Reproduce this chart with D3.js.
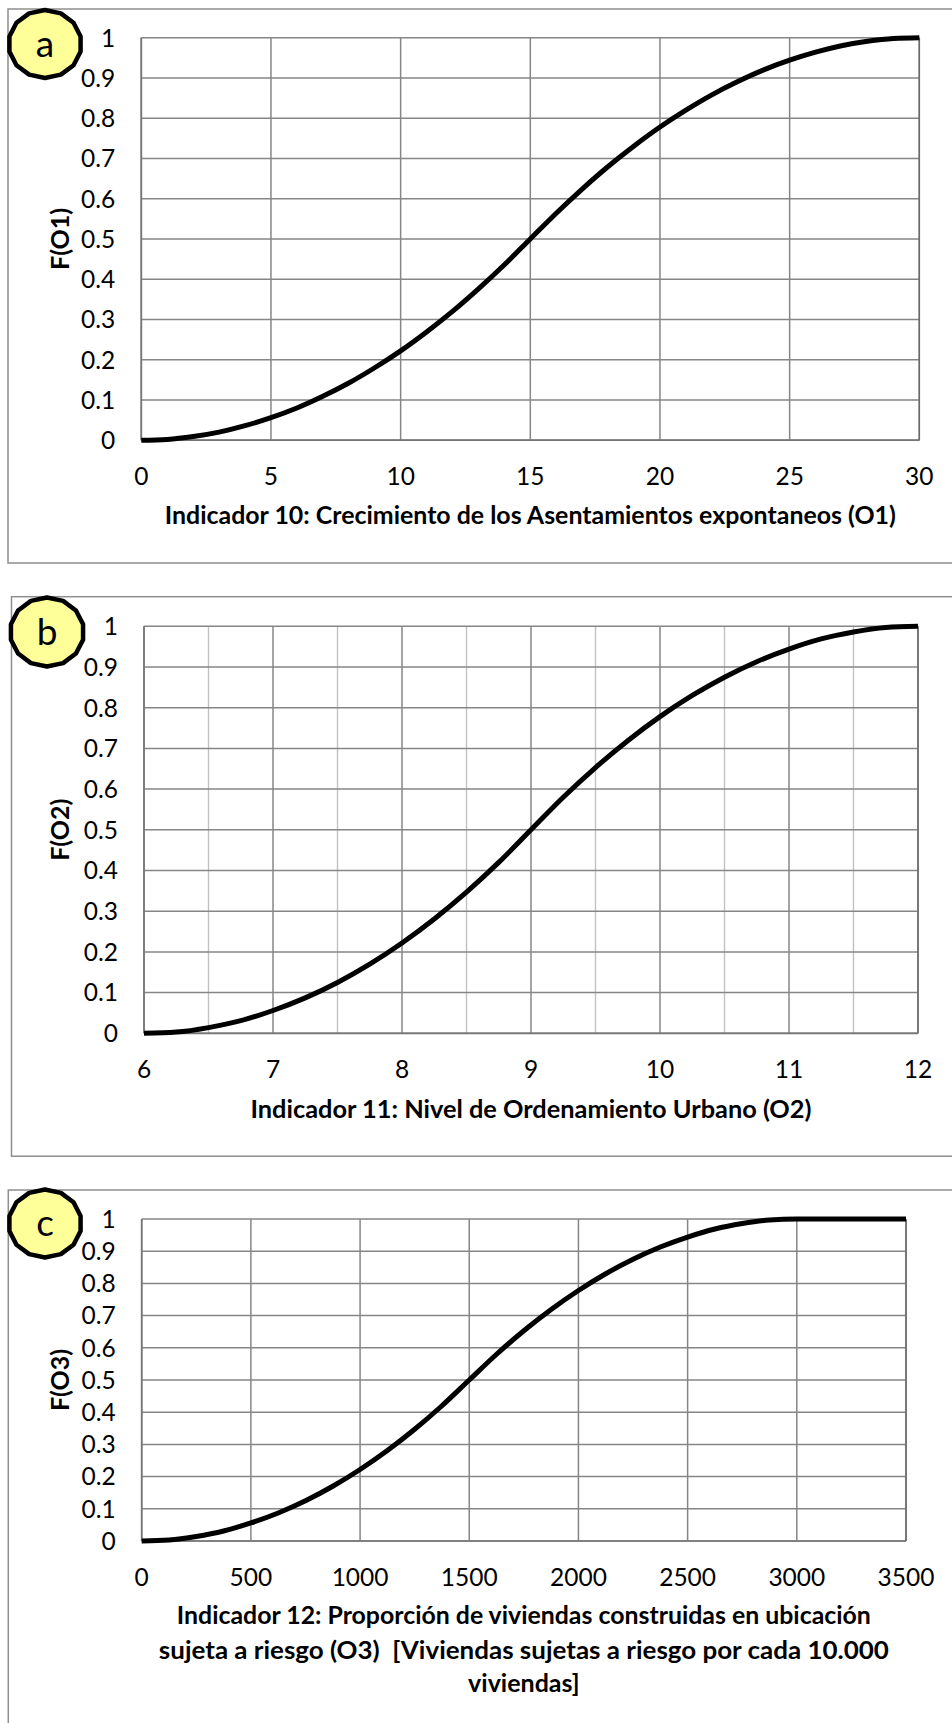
<!DOCTYPE html>
<html>
<head>
<meta charset="utf-8">
<script src="https://cdn.jsdelivr.net/npm/d3@7"></script>
<style>
  html, body { margin: 0; padding: 0; background: #ffffff; overflow: hidden; }
  svg { display: block; }
  text { font-family: Lato, "Open Sans", sans-serif; fill: #000; }
</style>
</head>
<body>
<svg id="chart" width="952" height="1723"></svg>
<script>
// ---- Data ----------------------------------------------------------------
// Shared F(x) axis
const fTicks = [0, 0.1, 0.2, 0.3, 0.4, 0.5, 0.6, 0.7, 0.8, 0.9, 1];
const fTickLabels = ["0", "0.1", "0.2", "0.3", "0.4", "0.5", "0.6", "0.7", "0.8", "0.9", "1"];

// (a) Indicador 10 – Crecimiento de los Asentamientos expontaneos (O1)
const o1Values = [0, 1, 2, 3, 4, 5, 6, 7, 8, 9, 10, 11, 12, 13, 14, 15,
                  16, 17, 18, 19, 20, 21, 22, 23, 24, 25, 26, 27, 28, 29, 30];
const fO1 = [0, 0.002, 0.009, 0.02, 0.036, 0.056, 0.08, 0.109, 0.142, 0.18, 0.222,
             0.269, 0.32, 0.376, 0.436, 0.5, 0.564, 0.624, 0.68, 0.731, 0.778,
             0.82, 0.858, 0.891, 0.92, 0.944, 0.964, 0.98, 0.991, 0.998, 1];
const o1Ticks = [0, 5, 10, 15, 20, 25, 30];

// (b) Indicador 11 – Nivel de Ordenamiento Urbano (O2)
const o2Values = [6, 6.25, 6.5, 6.75, 7, 7.25, 7.5, 7.75, 8, 8.25, 8.5, 8.75, 9,
                  9.25, 9.5, 9.75, 10, 10.25, 10.5, 10.75, 11, 11.25, 11.5, 11.75, 12];
const fO2 = [0, 0.003, 0.014, 0.031, 0.056, 0.087, 0.125, 0.17, 0.222, 0.281, 0.347, 0.42, 0.5,
             0.58, 0.653, 0.719, 0.778, 0.83, 0.875, 0.913, 0.944, 0.969, 0.986, 0.997, 1];
const o2Ticks = [6, 7, 8, 9, 10, 11, 12];
const o2MinorTicks = [6.5, 7.5, 8.5, 9.5, 10.5, 11.5];

// (c) Indicador 12 – Viviendas sujetas a riesgo por cada 10.000 viviendas (O3)
const o3Values = [0, 125, 250, 375, 500, 625, 750, 875, 1000, 1125, 1250, 1375, 1500,
                  1625, 1750, 1875, 2000, 2125, 2250, 2375, 2500, 2625, 2750, 2875, 3000, 3250, 3500];
const fO3 = [0, 0.003, 0.014, 0.031, 0.056, 0.087, 0.125, 0.17, 0.222, 0.281, 0.347, 0.42, 0.5,
             0.58, 0.653, 0.719, 0.778, 0.83, 0.875, 0.913, 0.944, 0.969, 0.986, 0.997, 1, 1, 1];
const o3Ticks = [0, 500, 1000, 1500, 2000, 2500, 3000, 3500];

// ---- Drawing ---------------------------------------------------------------
const svg = d3.select("#chart");
const GRID = "#868686";
const GRID_MINOR = "#c2c2c2";
const FRAME = "#8f8f8f";

// squeeze a bold title line into the width the narrow layout allows
function fitText(sel, width) {
  sel.each(function () {
    const w = this.getComputedTextLength();
    if (Math.abs(w - width) > 2) {
      d3.select(this).attr("textLength", width).attr("lengthAdjust", "spacingAndGlyphs");
    }
  });
}

function drawPanel(p) {
  const g = svg.append("g");

  // outer frame of the chart object (continues past the right edge)
  g.append("rect")
    .attr("x", p.frame.x).attr("y", p.frame.y)
    .attr("width", 1200).attr("height", p.frame.h)
    .attr("fill", "none").attr("stroke", FRAME).attr("stroke-width", 1.5);

  const x = d3.scaleLinear().domain(p.xDomain).range([p.plot.left, p.plot.right]);
  const y = d3.scaleLinear().domain([0, 1]).range([p.plot.bottom, p.plot.top]);

  // minor vertical gridlines
  if (p.xMinor) {
    g.append("g").selectAll("line").data(p.xMinor).join("line")
      .attr("x1", d => x(d)).attr("x2", d => x(d))
      .attr("y1", y(0)).attr("y2", y(1))
      .attr("stroke", GRID_MINOR).attr("stroke-width", 1.4);
  }
  // major vertical gridlines
  g.append("g").selectAll("line").data(p.xTicks).join("line")
    .attr("x1", d => x(d)).attr("x2", d => x(d))
    .attr("y1", y(0)).attr("y2", y(1))
    .attr("stroke", GRID).attr("stroke-width", 1.5);
  // horizontal gridlines
  g.append("g").selectAll("line").data(fTicks).join("line")
    .attr("x1", x(p.xDomain[0])).attr("x2", x(p.xDomain[1]))
    .attr("y1", d => y(d)).attr("y2", d => y(d))
    .attr("stroke", GRID).attr("stroke-width", 1.5);
  // axis lines
  g.append("line")
    .attr("x1", x(p.xDomain[0])).attr("x2", x(p.xDomain[1]))
    .attr("y1", y(0)).attr("y2", y(0))
    .attr("stroke", "#767676").attr("stroke-width", 1.7);
  g.append("line")
    .attr("x1", x(p.xDomain[0])).attr("x2", x(p.xDomain[0]))
    .attr("y1", y(0)).attr("y2", y(1))
    .attr("stroke", "#767676").attr("stroke-width", 1.7);
  g.append("line")
    .attr("x1", x(p.xDomain[1])).attr("x2", x(p.xDomain[1]))
    .attr("y1", y(0)).attr("y2", y(1))
    .attr("stroke", "#6a6a6a").attr("stroke-width", 1.5);

  // y tick labels
  g.append("g").selectAll("text").data(fTicks).join("text")
    .attr("x", p.plot.left - 26).attr("y", d => y(d))
    .attr("dy", "0.36em").attr("text-anchor", "end")
    .attr("font-size", 24.5)
    .text((d, i) => fTickLabels[i]);

  // x tick labels
  g.append("g").selectAll("text").data(p.xTicks).join("text")
    .attr("x", d => x(d)).attr("y", y(0) + 36)
    .attr("dy", "0.36em").attr("text-anchor", "middle")
    .attr("font-size", 24.5)
    .text(d => String(d));

  // y axis title
  g.append("text")
    .attr("transform", `translate(${p.yTitleX},${(y(0) + y(1)) / 2}) rotate(-90)`)
    .attr("text-anchor", "middle").attr("dy", "0.36em")
    .attr("font-size", 25).attr("font-weight", "bold")
    .text(p.yTitle);

  // x axis title (one or more lines)
  const cx = (p.plot.left + p.plot.right) / 2;
  p.xTitle.forEach((line, i) => {
    g.append("text")
      .attr("x", cx).attr("y", p.xTitleY[i])
      .attr("dy", "0.36em").attr("text-anchor", "middle")
      .attr("font-size", 25).attr("font-weight", "bold")
      .style("white-space", "pre")
      .text(line)
      .call(fitText, p.xTitleW[i]);
  });

  // curve
  const line = d3.line()
    .x((d, i) => x(p.xs[i]))
    .y(d => y(d))
    .curve(d3.curveMonotoneX);
  g.append("path")
    .datum(p.ys)
    .attr("d", line)
    .attr("fill", "none")
    .attr("stroke", "#000")
    .attr("stroke-width", 5)
    .attr("stroke-linejoin", "round");

  // panel badge
  const n = 14;
  const pts = d3.range(n).map(k => {
    const a = (k + 0.5) / n * 2 * Math.PI;
    return [p.badge.cx + p.badge.rx * Math.cos(a), p.badge.cy + p.badge.ry * Math.sin(a)];
  });
  g.append("path")
    .attr("d", d3.line().curve(d3.curveLinearClosed)(pts))
    .attr("fill", "#ffff99").attr("stroke", "#000").attr("stroke-width", 4.5)
    .attr("stroke-linejoin", "round");
  g.append("text")
    .attr("x", p.badge.cx).attr("y", p.badge.cy + 1)
    .attr("dy", "0.32em").attr("text-anchor", "middle")
    .attr("font-size", 37)
    .text(p.letter);
}

drawPanel({
  letter: "a",
  frame: { x: 8, y: 9, h: 554 },
  plot: { left: 141.3, right: 919.3, top: 37.7, bottom: 440.2 },
  badge: { cx: 45, cy: 44, rx: 36.5, ry: 34 },
  xDomain: [0, 30], xTicks: o1Ticks, xMinor: null,
  xs: o1Values, ys: fO1,
  yTitle: "F(O1)", yTitleX: 60,
  xTitle: ["Indicador 10: Crecimiento de los Asentamientos expontaneos (O1)"],
  xTitleY: [515], xTitleW: [731]
});

drawPanel({
  letter: "b",
  frame: { x: 11.5, y: 596.7, h: 559.5 },
  plot: { left: 144, right: 918, top: 626.3, bottom: 1033.3 },
  badge: { cx: 47, cy: 632, rx: 37, ry: 34.5 },
  xDomain: [6, 12], xTicks: o2Ticks, xMinor: o2MinorTicks,
  xs: o2Values, ys: fO2,
  yTitle: "F(O2)", yTitleX: 60,
  xTitle: ["Indicador 11: Nivel de Ordenamiento Urbano (O2)"],
  xTitleY: [1109], xTitleW: [561]
});

drawPanel({
  letter: "c",
  frame: { x: 8.3, y: 1190, h: 700 },
  plot: { left: 141.7, right: 906, top: 1219, bottom: 1541 },
  badge: { cx: 45, cy: 1223.5, rx: 36.5, ry: 34 },
  xDomain: [0, 3500], xTicks: o3Ticks, xMinor: null,
  xs: o3Values, ys: fO3,
  yTitle: "F(O3)", yTitleX: 60,
  xTitle: ["Indicador 12: Proporción de viviendas construidas en ubicación",
           "sujeta a riesgo (O3)  [Viviendas sujetas a riesgo por cada 10.000",
           "viviendas]"],
  xTitleY: [1615, 1650, 1683], xTitleW: [694, 730, 112]
});
</script>
</body>
</html>
